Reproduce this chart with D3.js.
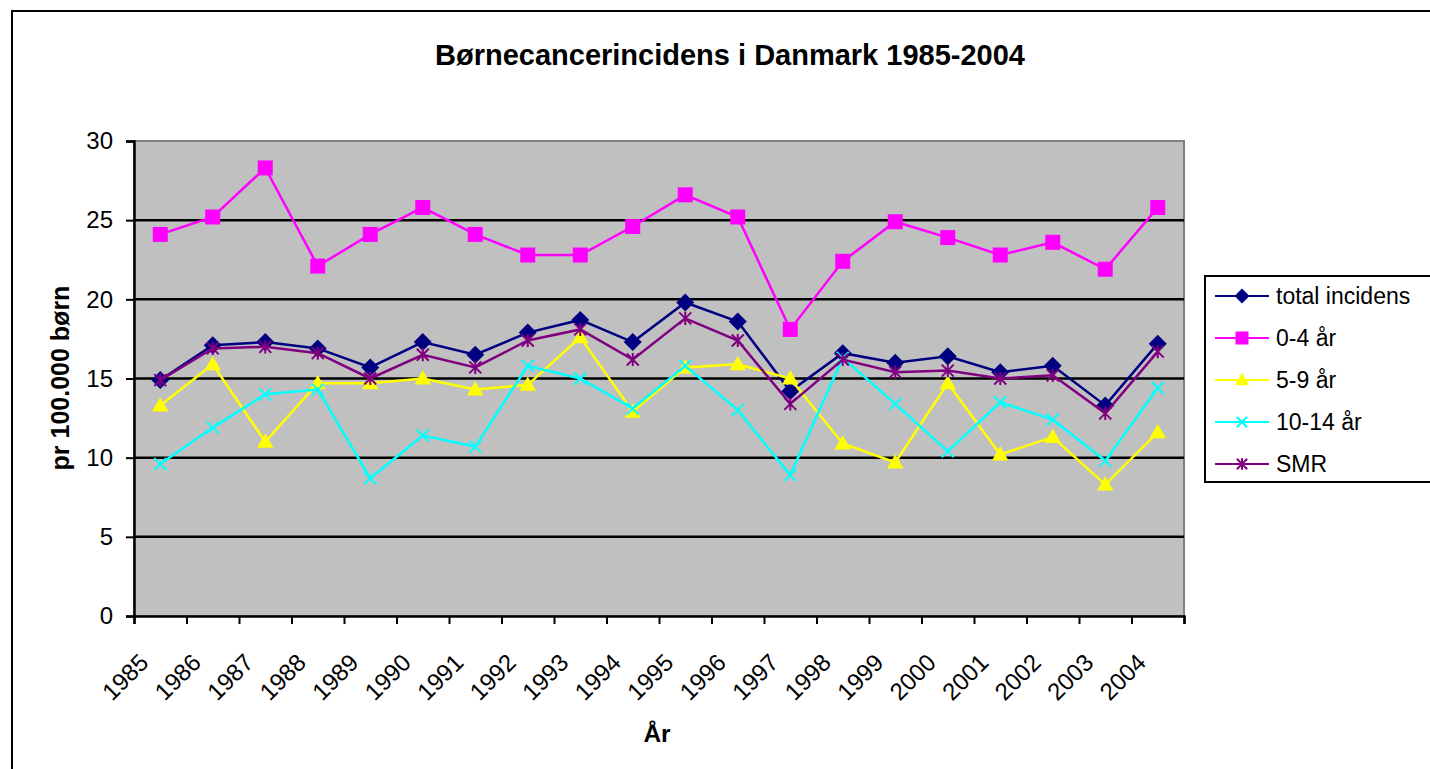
<!DOCTYPE html>
<html>
<head>
<meta charset="utf-8">
<script src="https://cdn.jsdelivr.net/npm/d3@7"></script>
<style>
  body { margin: 0; background: #fff; }
  svg { display: block; font-family: Arial, "Liberation Sans", sans-serif; }
</style>
</head>
<body>
<svg id="chart" width="1430" height="769"></svg>
<script>
const years = ["1985","1986","1987","1988","1989","1990","1991","1992","1993","1994",
               "1995","1996","1997","1998","1999","2000","2001","2002","2003","2004"];
const total = [14.9,17.1,17.3,16.9,15.7,17.3,16.5,17.9,18.7,17.3,19.8,18.6,14.2,16.6,16.0,16.4,15.4,15.8,13.3,17.2];
const age0_4 = [24.1,25.2,28.3,22.1,24.1,25.8,24.1,22.8,22.8,24.6,26.6,25.2,18.1,22.4,24.9,23.9,22.8,23.6,21.9,25.8];
const age5_9 = [13.3,15.9,11.0,14.7,14.7,15.0,14.3,14.6,17.6,12.9,15.7,15.9,15.0,10.9,9.7,14.7,10.2,11.3,8.3,11.6];
const age10_14 = [9.6,11.9,14.0,14.3,8.7,11.4,10.7,15.8,15.0,13.1,15.8,13.0,8.9,16.3,13.4,10.4,13.5,12.4,9.8,14.4];
const smr = [14.9,16.9,17.0,16.6,15.0,16.5,15.7,17.4,18.1,16.2,18.8,17.4,13.4,16.2,15.4,15.5,15.0,15.2,12.8,16.7];
const yTicks = [0,5,10,15,20,25,30];

const series = [
  {name: "total incidens", values: total, color: "#000080", marker: "diamond"},
  {name: "0-4 år", values: age0_4, color: "#FF00FF", marker: "square"},
  {name: "5-9 år", values: age5_9, color: "#FFFF00", marker: "triangle"},
  {name: "10-14 år", values: age10_14, color: "#00FFFF", marker: "x"},
  {name: "SMR", values: smr, color: "#800080", marker: "star"}
];

const svg = d3.select("#chart");
const plotLeft = 134, plotRight = 1184, plotTop = 141, plotBottom = 616;

// outer chart frame (runs past the window edge)
svg.append("rect").attr("x", 12).attr("y", 11).attr("width", 1440).attr("height", 780)
  .attr("fill", "#fff").attr("stroke", "#000").attr("stroke-width", 2);

const x = d3.scaleLinear().domain([0, years.length]).range([plotLeft, plotRight]);
const y = d3.scaleLinear().domain([0, 30]).range([plotBottom, plotTop]);

// plot background
svg.append("rect").attr("x", plotLeft).attr("y", plotTop).attr("width", plotRight - plotLeft).attr("height", plotBottom - plotTop)
  .attr("fill", "#C0C0C0").attr("stroke", "#808080").attr("stroke-width", 2);

// gridlines
svg.append("g").selectAll("line").data(yTicks.filter(d => d > 0 && d < 30)).enter().append("line")
  .attr("x1", plotLeft).attr("x2", plotRight)
  .attr("y1", d => y(d)).attr("y2", d => y(d))
  .attr("stroke", "#000").attr("stroke-width", 2.5);

// y axis
const yAxis = svg.append("g").attr("transform", "translate(" + plotLeft + ",0)")
  .call(d3.axisLeft(y).tickValues(yTicks).tickSize(8).tickPadding(13));
yAxis.select(".domain").attr("stroke-width", 2.5);
yAxis.selectAll(".tick line").attr("stroke-width", 2);
yAxis.selectAll("text").attr("font-size", 24).attr("fill", "#000").attr("font-family", "Arial, 'Liberation Sans', sans-serif");

// x axis
const xAxis = svg.append("g").attr("transform", "translate(0," + plotBottom + ")")
  .call(d3.axisBottom(x).tickValues(d3.range(years.length + 1)).tickSize(8).tickFormat(""));
xAxis.select(".domain").attr("stroke-width", 2.5);
xAxis.selectAll(".tick line").attr("stroke-width", 2);

svg.append("g").selectAll("text").data(years).enter().append("text")
  .attr("transform", (d, i) => "translate(" + (x(i) + 16) + ",664) rotate(-45)")
  .attr("text-anchor", "end")
  .attr("font-size", 24)
  .text(d => d);

// markers
function drawMarker(g, type, color, size) {
  const h = size / 2;
  if (type === "diamond") {
    g.append("path").attr("d", "M0," + (-h) + "L" + h + ",0L0," + h + "L" + (-h) + ",0Z").attr("fill", color);
  } else if (type === "square") {
    g.append("rect").attr("x", -h).attr("y", -h).attr("width", size).attr("height", size).attr("fill", color);
  } else if (type === "triangle") {
    g.append("path").attr("d", "M0," + (-size * 0.55) + "L" + (size * 0.55) + "," + (size * 0.4) + "L" + (-size * 0.55) + "," + (size * 0.4) + "Z").attr("fill", color);
  } else if (type === "x") {
    const s = size * 0.4;
    g.append("path").attr("d", "M" + (-s) + "," + (-s) + "L" + s + "," + s + "M" + (-s) + "," + s + "L" + s + "," + (-s))
      .attr("stroke", color).attr("stroke-width", 2).attr("fill", "none");
  } else if (type === "star") {
    const s = size * 0.4;
    g.append("path").attr("d", "M" + (-s) + "," + (-s) + "L" + s + "," + s + "M" + (-s) + "," + s + "L" + s + "," + (-s) + "M0," + (-s * 1.1) + "L0," + (s * 1.1))
      .attr("stroke", color).attr("stroke-width", 2).attr("fill", "none");
  }
}

const line = d3.line().x((d, i) => x(i + 0.5)).y(d => y(d));

series.forEach(s => {
  svg.append("path").datum(s.values).attr("d", line)
    .attr("fill", "none").attr("stroke", s.color).attr("stroke-width", 2.5);
  s.values.forEach((v, i) => {
    const g = svg.append("g").attr("transform", "translate(" + x(i + 0.5) + "," + y(v) + ")");
    drawMarker(g, s.marker, s.color, s.marker === "diamond" ? 18 : 15);
  });
});

// titles
svg.append("text").attr("x", 730).attr("y", 65).attr("text-anchor", "middle")
  .attr("font-size", 29).attr("font-weight", "bold").text("Børnecancerincidens i Danmark 1985-2004");
svg.append("text").attr("transform", "translate(69,378) rotate(-90)").attr("text-anchor", "middle")
  .attr("font-size", 25).attr("font-weight", "bold").text("pr 100.000 børn");
svg.append("text").attr("x", 657).attr("y", 742).attr("text-anchor", "middle")
  .attr("font-size", 24.5).attr("font-weight", "bold").text("År");

// legend
const legend = svg.append("g");
legend.append("rect").attr("x", 1205).attr("y", 276).attr("width", 260).attr("height", 206)
  .attr("fill", "#fff").attr("stroke", "#000").attr("stroke-width", 2);
series.forEach((s, i) => {
  const ly = 296 + i * 42;
  legend.append("line").attr("x1", 1215).attr("x2", 1269).attr("y1", ly).attr("y2", ly)
    .attr("stroke", s.color).attr("stroke-width", 2);
  const g = legend.append("g").attr("transform", "translate(1242," + ly + ")");
  drawMarker(g, s.marker, s.color, s.marker === "diamond" ? 15 : 13);
  legend.append("text").attr("x", 1276).attr("y", ly + 8).attr("font-size", 23).text(s.name);
});
</script>
</body>
</html>
